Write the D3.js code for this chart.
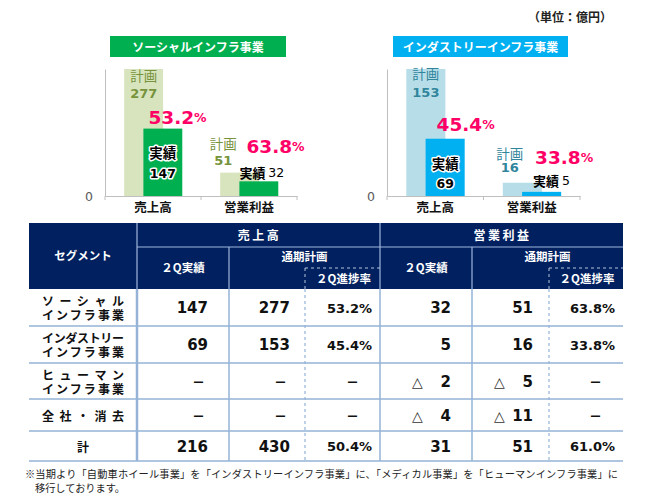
<!DOCTYPE html>
<html><head><meta charset="utf-8">
<script src="https://cdn.jsdelivr.net/npm/d3@7"></script>
<style>
html,body{margin:0;padding:0;background:#fff;}
svg{display:block;}
</style></head>
<body>
<script>
// ---------- DATA ----------
const categories = ["売上高", "営業利益"];
const socialPlan = [277, 51];
const socialActual = [147, 32];
const socialRate = ["53.2", "63.8"];
const industryPlan = [153, 16];
const industryActual = [69, 5];
const industryRate = ["45.4", "33.8"];

const segments = [["ソーシャル", "インフラ事業"], ["インダストリー", "インフラ事業"], ["ヒューマン", "インフラ事業"], ["全社・消去"], ["計"]];
const salesActual = [147, 69, null, null, 216];
const salesPlan = [277, 153, null, null, 430];
const salesRate = ["53.2%", "45.4%", null, null, "50.4%"];
const profitActual = [32, 5, -2, -4, 31];
const profitPlan = [51, 16, -5, -11, 51];
const profitRate = ["63.8%", "33.8%", null, null, "61.0%"];
const footnote = ["※当期より「自動車ホイール事業」を「インダストリーインフラ事業」に、「メディカル事業」を「ヒューマンインフラ事業」に", "移行しております。"];

// ---------- SETUP ----------
const W = 650, H = 502;
const JP = "'Noto Sans CJK JP', sans-serif";
const NUM = "'DejaVu Sans', 'Noto Sans CJK JP', sans-serif";
const svg = d3.select("body").append("svg").attr("width", W).attr("height", H);

svg.append("text").attr("x", 612).attr("y", 16).attr("text-anchor", "end")
  .attr("dominant-baseline", "central").attr("font-family", JP).attr("font-weight", "bold")
  .attr("font-size", 12).attr("fill", "#222").text("（単位：億円）");

function drawChart(cfg) {
  const g = svg.append("g");
  const x = d3.scaleBand().domain(categories).range([cfg.axisL, cfg.axisR]);
  const bw = x.bandwidth();
  const y = d3.scaleLinear().domain([0, d3.max(cfg.plan)]).range([196, 69]);
  const planX = (c) => x(c) + bw * 0.2;
  const actX = (c) => x(c) + bw * 0.4;
  const barW = bw * 0.405;

  // title box
  g.append("rect").attr("x", cfg.tx0).attr("y", 36).attr("width", cfg.tx1 - cfg.tx0).attr("height", 21).attr("fill", cfg.dark);
  g.append("text").attr("x", (cfg.tx0 + cfg.tx1) / 2).attr("y", 46.5).attr("text-anchor", "middle")
    .attr("dominant-baseline", "central").attr("font-family", JP).attr("font-weight", "bold")
    .attr("font-size", 12).attr("fill", "#fff").text(cfg.title);

  // bars
  g.selectAll("rect.plan").data(categories).join("rect").attr("class", "plan")
    .attr("x", d => planX(d)).attr("width", barW)
    .attr("y", (d, i) => y(cfg.plan[i])).attr("height", (d, i) => y(0) - y(cfg.plan[i]))
    .attr("fill", cfg.light);
  g.selectAll("rect.act").data(categories).join("rect").attr("class", "act")
    .attr("x", d => actX(d)).attr("width", barW)
    .attr("y", (d, i) => y(cfg.actual[i])).attr("height", (d, i) => y(0) - y(cfg.actual[i]))
    .attr("fill", cfg.dark);

  // axes
  const ya = g.append("g").attr("transform", `translate(${cfg.axisL},0)`)
    .call(d3.axisLeft(y).tickValues([0]).tickSize(0).tickSizeOuter(0).tickPadding(12));
  ya.select(".domain").attr("stroke", "#bfbfbf");
  ya.selectAll("text").attr("font-family", NUM).attr("font-size", 12.5).attr("fill", "#595959");
  const xa = g.append("g").attr("transform", `translate(0,${y(0)})`)
    .call(d3.axisBottom(x).tickSize(0).tickSizeOuter(0).tickPadding(7));
  xa.select(".domain").attr("stroke", "#bfbfbf");
  xa.selectAll("text").attr("font-family", JP).attr("font-weight", "bold").attr("font-size", 12.5).attr("fill", "#111");
  const edges = categories.map(c => x(c)).concat([cfg.axisR]);
  g.selectAll("line.tk").data(edges).join("line").attr("class", "tk")
    .attr("x1", d => d).attr("x2", d => d).attr("y1", y(0)).attr("y2", y(0) + 4).attr("stroke", "#bfbfbf");

  const a = cfg.ann;
  const txt = (px, py, s, opts) => {
    const t = g.append("text").attr("x", px).attr("y", py).attr("dominant-baseline", "central")
      .attr("text-anchor", opts.anchor || "start").attr("font-family", opts.font || JP)
      .attr("font-weight", opts.weight || "normal").attr("font-size", opts.size || 13)
      .attr("fill", opts.fill || "#000");
    if (opts.halo) t.attr("stroke", "#fff").attr("stroke-width", 3).attr("paint-order", "stroke").attr("stroke-linejoin", "round");
    t.text(s);
    return t;
  };
  const pct = (px, py, v) => {
    const t = g.append("text").attr("x", px).attr("y", py).attr("dominant-baseline", "central")
      .attr("font-family", NUM).attr("font-weight", "bold").attr("fill", "#ff0066");
    t.append("tspan").attr("font-size", 18.5).text(v);
    t.append("tspan").attr("font-size", 12.5).text("%");
  };
  const c0 = categories[0], c1 = categories[1];
  // sales (index 0)
  txt(planX(c0) + 6, y(cfg.plan[0]) + a.s1, "計画", { size: 13.5, fill: cfg.text });
  txt(planX(c0) + 6, y(cfg.plan[0]) + a.s2, cfg.plan[0], { font: NUM, weight: "bold", size: 13, fill: cfg.text });
  pct(actX(c0) + a.pdx0, y(cfg.actual[0]) + a.pdy0, cfg.rate[0]);
  txt(actX(c0) + barW / 2, y(cfg.actual[0]) + a.a1, "実績", { anchor: "middle", weight: "bold", size: 13.5, halo: true });
  txt(actX(c0) + barW / 2, y(cfg.actual[0]) + 45, cfg.actual[0], { anchor: "middle", font: NUM, weight: "bold", size: 12.5, halo: true });
  // profit (index 1)
  txt(planX(c1) + a.p1dx, y(cfg.plan[1]) - 30, "計画", { anchor: "middle", size: 13.5, fill: cfg.text });
  txt(planX(c1) + a.p1dx, y(cfg.plan[1]) + a.p2dy, cfg.plan[1], { anchor: "middle", font: NUM, weight: "bold", size: 13, fill: cfg.text });
  pct(actX(c1) + a.pdx1, y(cfg.actual[1]) - 35, cfg.rate[1]);
  const t = txt(actX(c1) + a.jdx, y(cfg.actual[1]) + a.jdy, "", { size: 13 });
  t.append("tspan").attr("font-weight", "bold").text("実績 ");
  t.append("tspan").attr("font-family", NUM).attr("font-size", 12.5).text(cfg.actual[1]);
}

drawChart({ axisL: 105, axisR: 297, tx0: 110, tx1: 286, title: "ソーシャルインフラ事業",
  plan: socialPlan, actual: socialActual, rate: socialRate,
  dark: "#00b050", light: "#d7e4bd", text: "#77933c",
  ann: { s1: 6, s2: 24, pdx0: 5, pdy0: -12, a1: 23, p1dx: 3, p2dy: -12, pdx1: 7, jdx: 0, jdy: -9 } });
drawChart({ axisL: 387, axisR: 580, tx0: 393, tx1: 568, title: "インダストリーインフラ事業",
  plan: industryPlan, actual: industryActual, rate: industryRate,
  dark: "#00b0f0", light: "#b7dee8", text: "#31859c",
  ann: { s1: 4, s2: 23, pdx0: 11, pdy0: -15, a1: 24, p1dx: 7, p2dy: -15, pdx1: 13, jdx: 11, jdy: -12 } });

// ---------- TABLE ----------
const colX = [29, 137, 229, 305, 380, 472, 549, 623];
const headTop = 223, headMid = 247, headSub = 268, headBot = 289;
const rowY = [289, 326, 363, 399, 431, 461];
const tg = svg.append("g");
const NAVY = "#002060", LINE = "#95b3d7", HLINE = "#9fb6da";

tg.append("rect").attr("x", colX[0]).attr("y", headTop).attr("width", colX[7] - colX[0]).attr("height", headBot - headTop).attr("fill", NAVY);
const hl = (x1, y1, x2, y2, dash, col, w) => tg.append("line").attr("x1", x1).attr("y1", y1).attr("x2", x2).attr("y2", y2)
  .attr("stroke", col).attr("stroke-width", w || 1.2).attr("stroke-dasharray", dash || null);
hl(colX[1], headTop, colX[1], headBot, null, HLINE);
hl(colX[4], headTop, colX[4], headBot, null, HLINE);
hl(colX[1], headMid, colX[7], headMid, null, HLINE);
hl(colX[2], headMid, colX[2], headBot, null, HLINE);
hl(colX[5], headMid, colX[5], headBot, null, HLINE);
[3, 6].forEach(i => {
  hl(colX[i], headSub, colX[i + 1], headSub, "3,3", "#b7c3dc", 1);
  hl(colX[i], headSub, colX[i], headBot, "3,3", "#b7c3dc", 1);
});
const ht = (px, py, s, size, ls) => tg.append("text").attr("x", px).attr("y", py).attr("text-anchor", "middle")
  .attr("dominant-baseline", "central").attr("font-family", JP).attr("font-weight", "bold")
  .attr("font-size", size || 11.5).attr("letter-spacing", ls || 0).attr("fill", "#fff").text(s);
ht((colX[0] + colX[1]) / 2, 255, "セグメント");
ht((colX[1] + colX[4]) / 2 + 1, 234, categories[0], 12, 2.5);
ht((colX[4] + colX[7]) / 2 + 1, 234, categories[1], 12, 2.5);
ht((colX[1] + colX[2]) / 2, 267, "２Q実績");
ht((colX[4] + colX[5]) / 2, 267, "２Q実績");
ht((colX[2] + colX[4]) / 2, 256, "通期計画");
ht((colX[5] + colX[7]) / 2, 256, "通期計画");
ht((colX[3] + colX[4]) / 2 + 1, 278, "２Q進捗率");
ht((colX[6] + colX[7]) / 2 + 1, 278, "２Q進捗率");

// body grid
tg.selectAll("line.rh").data(rowY.slice(1)).join("line").attr("class", "rh")
  .attr("x1", colX[0]).attr("x2", colX[7]).attr("y1", d => d).attr("y2", d => d)
  .attr("stroke", LINE).attr("stroke-width", 1.5);
[[1, null, 2.5], [2, null, 1.5], [4, null, 1.5], [5, null, 1.5], [3, "3,3", 1.2], [6, "3,3", 1.2]].forEach(([i, dash, w]) => {
  hl(colX[i], headBot, colX[i], rowY[5], dash, LINE, w);
});

// row labels
segments.forEach((seg, r) => {
  const cy = (rowY[r] + rowY[r + 1]) / 2;
  if (seg.length === 2) {
    seg.forEach((s, k) => {
      tg.append("text").attr("x", 42).attr("y", cy + (k === 0 ? -7 : 7)).attr("dominant-baseline", "central")
        .attr("font-family", JP).attr("font-weight", "bold").attr("font-size", 12).attr("fill", "#111")
        .attr("textLength", 82).attr("lengthAdjust", "spacing").text(s);
    });
  } else if (seg[0].length > 1) {
    tg.append("text").attr("x", 42).attr("y", cy).attr("dominant-baseline", "central")
      .attr("font-family", JP).attr("font-weight", "bold").attr("font-size", 12).attr("fill", "#111")
      .attr("textLength", 82).attr("lengthAdjust", "spacing").text(seg[0]);
  } else {
    tg.append("text").attr("x", (colX[0] + colX[1]) / 2).attr("y", cy).attr("text-anchor", "middle").attr("dominant-baseline", "central")
      .attr("font-family", JP).attr("font-weight", "bold").attr("font-size", 12).attr("fill", "#111").text(seg[0]);
  }
});

// values
const cols = [
  { vals: salesActual, right: 208, type: "num" },
  { vals: salesPlan, right: 290, type: "num" },
  { vals: salesRate, right: 372, type: "pct" },
  { vals: profitActual, right: 451, type: "num" },
  { vals: profitPlan, right: 533, type: "num" },
  { vals: profitRate, right: 615, type: "pct" }
];
cols.forEach(col => {
  col.vals.forEach((v, r) => {
    const cy = (rowY[r] + rowY[r + 1]) / 2 + 0.5;
    if (v === null) {
      tg.append("text").attr("x", col.type === "pct" ? col.right - 13 : col.right - 3).attr("y", cy)
        .attr("text-anchor", "end").attr("dominant-baseline", "central")
        .attr("font-family", JP).attr("font-weight", "900").attr("font-size", 13).attr("fill", "#111").text("－");
      return;
    }
    if (col.type === "pct") {
      tg.append("text").attr("x", col.right).attr("y", cy).attr("text-anchor", "end").attr("dominant-baseline", "central")
        .attr("font-family", NUM).attr("font-weight", "bold").attr("font-size", 13).attr("fill", "#111").text(v);
    } else {
      tg.append("text").attr("x", col.right).attr("y", cy).attr("text-anchor", "end").attr("dominant-baseline", "central")
        .attr("font-family", NUM).attr("font-weight", "bold").attr("font-size", 15).attr("fill", "#111").text(Math.abs(v));
      if (v < 0) {
        tg.append("text").attr("x", col.right - 39).attr("y", cy).attr("dominant-baseline", "central")
          .attr("font-family", NUM).attr("font-size", 14).attr("fill", "#333").text("△");
      }
    }
  });
});

// footnote
svg.append("text").attr("x", 25).attr("y", 473).attr("dominant-baseline", "central")
  .attr("font-family", JP).attr("font-size", 10.2).attr("fill", "#222")
  .attr("textLength", 593).attr("lengthAdjust", "spacing").text(footnote[0]);
svg.append("text").attr("x", 35).attr("y", 487).attr("dominant-baseline", "central")
  .attr("font-family", JP).attr("font-size", 10.2).attr("fill", "#222").text(footnote[1]);
</script>
</body></html>
